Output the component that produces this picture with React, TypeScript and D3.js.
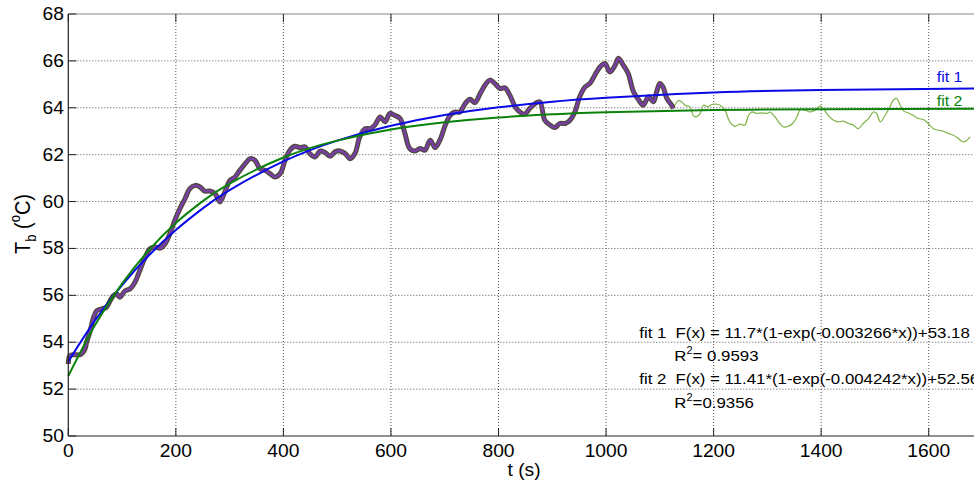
import React, { useRef, useEffect } from 'react';
import * as d3 from 'd3';

// measured temperature (fitted part)
const measuredT = [
  0, 3, 12, 22, 31, 34, 40, 47, 53, 62, 71, 78, 84, 90, 96, 105, 115, 124, 133, 143, 152, 161, 171, 180, 189, 198,
  208, 217, 226, 236, 245, 254, 263, 273, 282, 291, 301, 310, 319, 329, 338, 347, 356, 366, 375, 384, 394, 403, 412,
  421, 431, 440, 449, 459, 468, 477, 487, 496, 505, 515, 524, 533, 542, 552, 561, 570, 580, 589, 598, 607, 617, 626,
  635, 645, 654, 663, 673, 682, 691, 701, 710, 719, 728, 738, 747, 756, 766, 775, 784, 793, 803, 812, 821, 831, 840,
  849, 858, 868, 877, 886, 896, 905, 914, 924, 933, 942, 951, 961, 970, 979, 989, 998, 1007, 1017, 1023, 1032, 1041,
  1051, 1060, 1069, 1079, 1088, 1094, 1100, 1106, 1113, 1122, 1125
];
const measuredTemp = [
  53.07, 53.43, 53.47, 53.47, 53.71, 54.0, 54.42, 55.06, 55.35, 55.42, 55.49, 55.78, 55.99, 56.06, 55.92, 56.18, 56.28,
  56.56, 57.06, 57.63, 57.99, 58.06, 58.01, 58.2, 58.63, 59.2, 59.72, 60.12, 60.55, 60.69, 60.62, 60.44, 60.45, 60.34,
  59.98, 60.41, 60.91, 61.05, 61.33, 61.62, 61.83, 61.76, 61.41, 61.33, 61.19, 61.05, 61.19, 61.76, 62.19, 62.36, 62.3,
  62.33, 62.05, 61.9, 62.15, 62.1, 61.93, 62.12, 62.16, 62.05, 61.83, 62.05, 62.76, 63.11, 63.11, 63.26, 63.61, 63.4,
  63.76, 63.68, 63.54, 62.9, 62.26, 62.16, 62.26, 62.19, 62.62, 62.3, 62.62, 63.26, 63.68, 63.82, 63.82, 64.18, 64.36,
  64.22, 64.61, 64.97, 65.18, 65.04, 64.82, 64.85, 64.54, 64.04, 63.82, 63.73, 63.97, 64.18, 64.25, 63.47, 63.26, 63.16,
  63.33, 63.33, 63.47, 63.82, 64.47, 64.89, 65.04, 65.39, 65.75, 65.89, 65.53, 65.82, 66.11, 65.82, 65.47, 64.68, 64.36,
  64.11, 64.47, 64.25, 64.68, 65.04, 64.89, 64.4, 64.11, 63.97
];

// rest of the record, not used in the fits
const tailT = [
  1125, 1134, 1141, 1147, 1156, 1162, 1168, 1175, 1181, 1190, 1196, 1206, 1212, 1221, 1230, 1240, 1249, 1258, 1265,
  1271, 1280, 1289, 1299, 1305, 1314, 1323, 1330, 1339, 1348, 1355, 1361, 1370, 1379, 1388, 1398, 1404, 1413, 1423,
  1432, 1441, 1451, 1460, 1469, 1478, 1488, 1497, 1503, 1510, 1519, 1528, 1534, 1540, 1547, 1553, 1562, 1571, 1581,
  1590, 1599, 1609, 1618, 1627, 1637, 1646, 1655, 1664, 1671, 1677
];
const tailTemp = [
  63.97, 64.3, 64.25, 64.11, 64.04, 63.68, 63.61, 63.76, 64.11, 64.04, 64.14, 64.15, 64.11, 63.9, 63.4, 63.21, 63.3,
  63.26, 63.68, 63.82, 63.76, 63.78, 63.76, 63.82, 63.61, 63.33, 63.18, 63.21, 63.35, 63.62, 63.92, 63.9, 63.82, 63.9,
  64.07, 63.97, 63.68, 63.47, 63.4, 63.43, 63.33, 63.26, 63.11, 63.33, 63.54, 63.82, 63.76, 63.4, 63.68, 64.04, 64.32,
  64.4, 64.11, 63.87, 63.78, 63.68, 63.54, 63.5, 63.33, 63.11, 63.04, 63.0, 62.9, 62.83, 62.69, 62.54, 62.62, 62.76
];

// fit curves
const fitT = [0, 50, 100, 150, 200, 250, 300, 400, 500, 600, 700, 800, 900, 1000, 1200, 1400, 1700];
const fit1Temp = [53.18, 54.94, 56.44, 57.71, 58.79, 59.71, 60.49, 61.71, 62.6, 63.23, 63.69, 64.02, 64.26, 64.43, 64.65, 64.76, 64.83];
const fit2Temp = [52.56, 54.74, 56.5, 57.93, 59.09, 60.02, 60.77, 61.88, 62.6, 63.07, 63.38, 63.59, 63.72, 63.81, 63.9, 63.94, 63.96];

const xTicks = [0, 200, 400, 600, 800, 1000, 1200, 1400, 1600];
const yTicks = [50, 52, 54, 56, 58, 60, 62, 64, 66, 68];
const fitNames = ['fit 1', 'fit 2'];
const fitEquations = ['F(x) = 11.7*(1-exp(-0.003266*x))+53.18', 'F(x) = 11.41*(1-exp(-0.004242*x))+52.56'];
const fitR2 = ['= 0.9593', '=0.9356'];

export default function App(): JSX.Element {
  const divRef = useRef<HTMLDivElement>(null);
  useEffect(() => {
    const divEle = divRef.current;
    if (divEle == null) return;
    d3.select(divEle).selectAll('*').remove();

    const W = 974;
    const H = 481;
    const font = 'Liberation Sans, Arial, Helvetica, sans-serif';
    const svg = d3.select(divEle).append('svg').attr('width', W).attr('height', H).style('display', 'block');
    svg.append('rect').attr('width', W).attr('height', H).attr('fill', '#fff');

    const x = d3.scaleLinear().domain([0, 1700]).range([68.3, 982.5]);
    const y = d3.scaleLinear().domain([50, 68]).range([436, 14]);

    // text a bit stretched sideways like the original export
    const txt = (sx: number, sy: number, s: string, size: number, anchor = 'start', color = '#000') =>
      svg
        .append('text')
        .attr('transform', `translate(${sx},${sy}) scale(1.1,1)`)
        .attr('text-anchor', anchor)
        .attr('font-family', font)
        .attr('font-size', size)
        .attr('fill', color)
        .text(s);

    // 网格
    svg
      .selectAll()
      .data(xTicks.filter((d) => d > 0))
      .join('line')
      .attr('x1', (d) => x(d))
      .attr('x2', (d) => x(d))
      .attr('y1', y(68))
      .attr('y2', y(50))
      .attr('stroke', '#555')
      .attr('stroke-width', 1)
      .attr('stroke-dasharray', '1,2');
    svg
      .selectAll()
      .data(yTicks.filter((d) => d > 50 && d < 68))
      .join('line')
      .attr('x1', x(0))
      .attr('x2', x(1700))
      .attr('y1', (d) => y(d))
      .attr('y2', (d) => y(d))
      .attr('stroke', '#555')
      .attr('stroke-width', 1)
      .attr('stroke-dasharray', '1,2');

    const line = d3
      .line<[number, number]>()
      .x((d) => x(d[0]))
      .y((d) => y(d[1]))
      .curve(d3.curveCatmullRom);

    const measured = measuredT.map((t, i) => [t, measuredTemp[i]] as [number, number]);
    const tail = tailT.map((t, i) => [t, tailTemp[i]] as [number, number]);

    svg.append('path').attr('d', line(tail)).attr('fill', 'none').attr('stroke', '#7fb347').attr('stroke-width', 1.2);
    svg
      .append('path')
      .attr('d', line(measured))
      .attr('fill', 'none')
      .attr('stroke', '#4f4a3c')
      .attr('stroke-width', 5)
      .attr('stroke-linejoin', 'round');
    svg
      .append('path')
      .attr('d', line(measured))
      .attr('fill', 'none')
      .attr('stroke', '#7a3ea8')
      .attr('stroke-width', 2.4)
      .attr('stroke-linejoin', 'round');

    const fitLine = d3
      .line<[number, number]>()
      .x((d) => x(d[0]))
      .y((d) => y(d[1]))
      .curve(d3.curveNatural);
    const fitColors = ['#0a0ae6', '#0a820a'];
    [fit1Temp, fit2Temp].forEach((vals, k) => {
      svg
        .append('path')
        .attr('d', fitLine(fitT.map((t, i) => [t, vals[i]] as [number, number])))
        .attr('fill', 'none')
        .attr('stroke', fitColors[k])
        .attr('stroke-width', 2);
    });

    // 坐标轴框
    svg.append('line').attr('x1', x(0)).attr('x2', W).attr('y1', y(68)).attr('y2', y(68)).attr('stroke', '#888').attr('stroke-width', 1.2);
    svg.append('line').attr('x1', x(0)).attr('x2', x(0)).attr('y1', y(68)).attr('y2', y(50)).attr('stroke', '#222').attr('stroke-width', 1.2);
    svg.append('line').attr('x1', x(0)).attr('x2', W).attr('y1', y(50)).attr('y2', y(50)).attr('stroke', '#222').attr('stroke-width', 1.2);

    // 刻度
    svg
      .selectAll()
      .data(xTicks)
      .join('line')
      .attr('x1', (d) => x(d))
      .attr('x2', (d) => x(d))
      .attr('y1', y(50))
      .attr('y2', y(50) - 8)
      .attr('stroke', '#222');
    svg
      .selectAll()
      .data(xTicks)
      .join('line')
      .attr('x1', (d) => x(d))
      .attr('x2', (d) => x(d))
      .attr('y1', y(68))
      .attr('y2', y(68) + 8)
      .attr('stroke', '#222');
    svg
      .selectAll()
      .data(yTicks)
      .join('line')
      .attr('x1', x(0))
      .attr('x2', x(0) + 8)
      .attr('y1', (d) => y(d))
      .attr('y2', (d) => y(d))
      .attr('stroke', '#222');

    xTicks.forEach((t) => txt(x(t), 456.5, String(t), 17.5, 'middle'));
    yTicks.forEach((v) => txt(64, y(v) + 6, String(v), 17.5, 'end'));

    txt(524, 476, 't (s)', 17.5, 'middle');

    const yl = svg
      .append('text')
      .attr('transform', 'translate(30,224) rotate(-90) scale(1,1.1)')
      .attr('text-anchor', 'middle')
      .attr('font-family', font)
      .attr('font-size', 20);
    yl.append('tspan').text('T');
    yl.append('tspan').attr('font-size', 13).attr('dy', 5).text('b');
    yl.append('tspan').attr('dy', -5).text(' (');
    yl.append('tspan').attr('font-size', 13).attr('dy', -9).text('o');
    yl.append('tspan').attr('dy', 9).text('C)');

    // 曲线名称
    txt(936.7, 81.7, fitNames[0], 14.5, 'start', fitColors[0]);
    txt(936.7, 106, fitNames[1], 14.5, 'start', fitColors[1]);

    // 拟合公式
    const eqY = [338, 384.3];
    fitNames.forEach((n, k) => {
      txt(639.3, eqY[k], n, 15.3);
      txt(675.5, eqY[k], fitEquations[k], 15.3);
      const r = txt(674.3, eqY[k] + 23.4, '', 15.3);
      r.append('tspan').text('R');
      r.append('tspan').attr('font-size', 10).attr('dy', -7).text('2');
      r.append('tspan').attr('dy', 7).text(fitR2[k]);
    });
  }, []);
  return <div ref={divRef} style={{ position: 'absolute', left: 0, top: 0, width: 974, height: 481 }} />;
}
